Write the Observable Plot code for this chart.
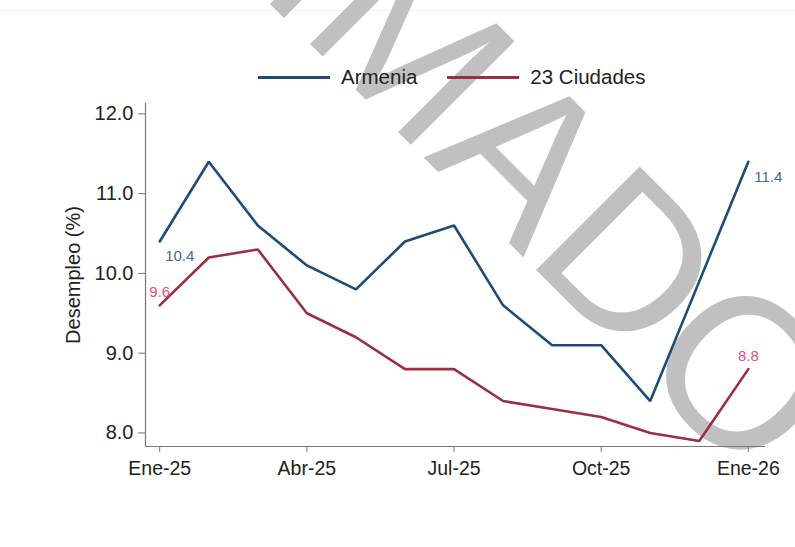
<!DOCTYPE html>
<html>
<head>
<meta charset="utf-8">
<script src="https://cdn.jsdelivr.net/npm/d3@7"></script>
<script src="https://cdn.jsdelivr.net/npm/@observablehq/plot@0.6"></script>
<style>
  html, body { margin: 0; padding: 0; background: #fff; }
  #wrap { position: relative; width: 795px; height: 547px; overflow: hidden; font-family: "Liberation Sans", Arial, sans-serif; }
  #topline { position: absolute; left: 0; top: 10px; width: 795px; height: 0; border-top: 1px solid #eef2f6; z-index: 0; }
  #wm { position: absolute; left: 0; top: 0; z-index: 0; }
  #legend { position: relative; z-index: 1; height: 100px; box-sizing: border-box; padding-top: 65px; padding-left: 258px; display: flex; align-items: flex-start; }
  .item { display: flex; align-items: center; height: 24px; font-size: 20.5px; color: #222; }
  .sw { display: inline-block; width: 72px; height: 3px; margin-right: 11px; }
  #chart { position: relative; z-index: 1; }
</style>
</head>
<body>
<div id="wrap">
  <div id="topline"></div>
  <svg id="wm" width="795" height="547"></svg>
  <div id="legend"></div>
  <div id="chart"></div>
</div>
<script>
// ---- data ----
const meses = ["Ene-25","Feb-25","Mar-25","Abr-25","May-25","Jun-25","Jul-25","Ago-25","Sep-25","Oct-25","Nov-25","Dic-25","Ene-26"];
const armenia  = [10.4, 11.4, 10.6, 10.1, 9.8, 10.4, 10.6, 9.6, 9.1, 9.1, 8.4, 9.9, 11.4];
const ciudades = [9.6, 10.2, 10.3, 9.5, 9.2, 8.8, 8.8, 8.4, 8.3, 8.2, 8.0, 7.9, 8.8];
const series = ["Armenia", "23 Ciudades"];
const xTicks = [0, 3, 6, 9, 12];
const yTicks = [8, 9, 10, 11, 12];
const yTitle = "Desempleo (%)";
const watermark = "ESTIMADO";

// ---- styles ----
const lineColors = ["#1e4b78", "#9c2f3e"];
const labelColors = ["#3d6997", "#e0507f"];
const xDomain = [-0.29, 12.35];
const yDomain = [7.83, 12.13];

const rows = [];
meses.forEach((m, i) => {
  rows.push({i, mes: m, serie: series[0], v: armenia[i]});
  rows.push({i, mes: m, serie: series[1], v: ciudades[i]});
});
const last = meses.length - 1;
const ends = rows.filter(d => d.i === 0 || d.i === last);

// legend
const legend = document.getElementById("legend");
series.forEach((s, k) => {
  const it = document.createElement("div");
  it.className = "item";
  if (k > 0) it.style.marginLeft = "30px";
  const sw = document.createElement("span");
  sw.className = "sw";
  sw.style.background = lineColors[k];
  it.appendChild(sw);
  it.appendChild(document.createTextNode(s));
  legend.appendChild(it);
});

// watermark (behind the chart)
const wm = d3.select("#wm");
wm.append("text")
  .attr("transform", "translate(-37,-303) rotate(45)")
  .attr("font-family", "Liberation Sans, Arial, sans-serif")
  .attr("font-size", 213)
  .attr("fill", "#c0c0c0")
  .text(watermark);

const chart = Plot.plot({
  width: 795,
  height: 447,
  marginLeft: 145,
  marginRight: 30,
  marginTop: 3,
  marginBottom: 101,
  style: {background: "transparent", fontFamily: "Liberation Sans, Arial, sans-serif", fontSize: "19.5px", color: "#222"},
  x: {domain: xDomain},
  y: {domain: yDomain},
  color: {domain: series, range: lineColors},
  marks: [
    Plot.ruleX([xDomain[0]], {stroke: "#777", strokeWidth: 1.2}),
    Plot.ruleY([yDomain[0]], {stroke: "#777", strokeWidth: 1.2}),
    Plot.axisY({ticks: yTicks, tickFormat: d => d.toFixed(1), tickSize: 7, tickPadding: 5, stroke: "#777", fill: "#222", fontSize: 20, label: null}),
    Plot.axisX({ticks: xTicks, tickFormat: i => meses[i], tickSize: 6, tickPadding: 9, stroke: "#777", fill: "#222", fontSize: 19.5, label: null}),
    Plot.text([yTitle], {text: d => d, frameAnchor: "left", textAnchor: "middle", lineAnchor: "middle", dx: -72, rotate: -90, fill: "#222", fontSize: 20}),
    Plot.line(rows, {x: "i", y: "v", z: "serie", stroke: "serie", strokeWidth: 2.6, strokeLinejoin: "miter"}),
    Plot.text(ends.filter(d => d.serie === series[0]), {x: "i", y: "v", text: d => d.v.toFixed(1), dx: 20, dy: 15, fill: labelColors[0], fontSize: 15}),
    Plot.text(ends.filter(d => d.serie === series[1]), {x: "i", y: "v", text: d => d.v.toFixed(1), dx: 0, dy: -13, fill: labelColors[1], fontSize: 15})
  ]
});
document.getElementById("chart").appendChild(chart);
</script>
</body>
</html>
